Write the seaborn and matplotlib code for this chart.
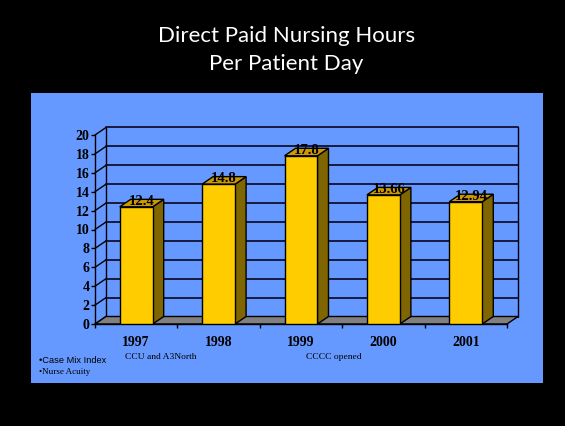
import matplotlib
matplotlib.use("Agg")
import matplotlib.pyplot as plt
import seaborn as sns
import pandas as pd
from matplotlib.patches import Polygon, Rectangle

# Data
years = ["1997", "1998", "1999", "2000", "2001"]
hours = [12.4, 14.8, 17.8, 13.66, 12.94]
value_labels = ["12.4", "14.8", "17.8", "13.66", "12.94"]
y_ticks = list(range(0, 21, 2))
notes = ["CCU and A3North", "CCCC opened"]
bullets = ["\u2022Case Mix Index", "\u2022Nurse Acuity"]
title_lines = ["Direct Paid Nursing Hours", "Per Patient Day"]

W, H = 565, 426
sns.set_theme(style="white")
plt.rcParams["font.family"] = ["DejaVu Sans"]

fig = plt.figure(figsize=(W / 100, H / 100), dpi=100, facecolor="black")


def fx(px):
    return px / W


def fy(py):
    return 1 - py / H


# blue slide panel
fig.patches.append(Rectangle((fx(31), fy(383)), fx(543) - fx(31), fy(93) - fy(383),
                             transform=fig.transFigure, facecolor="#6699FF",
                             edgecolor="none", zorder=-5))

# title
fig.text(fx(286.5), fy(41.7), title_lines[0], ha="center", va="baseline",
         color="white", fontsize=16, family="Lato")
fig.text(fx(286.5), fy(70), title_lines[1], ha="center", va="baseline",
         color="white", fontsize=16, family="Lato")

ax = fig.add_axes([fx(95), fy(324), fx(507) - fx(95), fy(135) - fy(324)])
ax.set_zorder(1)
ax.set_facecolor("none")

df = pd.DataFrame({"year": years, "hours": hours})
sns.barplot(data=df, x="year", y="hours", color="#FFCC00", width=0.4,
            saturation=1, edgecolor="black", linewidth=1, ax=ax, zorder=5)

ax.set_xlim(-0.5, 4.5)
ax.set_ylim(0, 20)

# depth of the pseudo-3D box, in data units
dx = 11 / 82.4
dy = 7.5 / 9.45
x0, x1 = -0.5, 4.5
ymax = 20

# floor
ax.add_patch(Polygon([(x0, 0), (x1, 0), (x1 + dx, dy), (x0 + dx, dy)],
                     closed=True, facecolor="#808080", edgecolor="black",
                     linewidth=1, zorder=2, clip_on=False))
# back wall frame and grid
ax.plot([x0 + dx, x0 + dx], [dy, ymax + dy], color="black", lw=1, clip_on=False, zorder=1)
ax.plot([x1 + dx, x1 + dx], [dy, ymax + dy], color="black", lw=1, clip_on=False, zorder=1)
for t in y_ticks:
    ax.plot([x0 + dx, x1 + dx], [t + dy, t + dy], color="#101030", lw=1.3,
            clip_on=False, zorder=1)
    ax.plot([x0, x0 + dx], [t, t + dy], color="black", lw=1, clip_on=False, zorder=1)

# bar sides and tops
for p, lab in zip(ax.patches, value_labels):
    bx, bw, bh = p.get_x(), p.get_width(), p.get_height()
    if bh <= 0:
        continue
    side = [(bx + bw, 0), (bx + bw + dx, dy), (bx + bw + dx, bh + dy), (bx + bw, bh)]
    top = [(bx, bh), (bx + dx, bh + dy), (bx + bw + dx, bh + dy), (bx + bw, bh)]
    ax.add_patch(Polygon(side, closed=True, facecolor="#806600", edgecolor="black",
                         linewidth=1, zorder=4, clip_on=False))
    ax.add_patch(Polygon(top, closed=True, facecolor="#CC9900", edgecolor="black",
                         linewidth=1, zorder=4, clip_on=False))
    ax.text(bx + bw / 2 + dx / 2, bh + dy * 0.7, lab, ha="center", va="center",
            family="Liberation Serif", fontweight="bold", fontsize=10.5,
            color="black", zorder=6, clip_on=False)

# axes styling
for s in ["top", "right"]:
    ax.spines[s].set_visible(False)
for s in ["left", "bottom"]:
    ax.spines[s].set_color("black")
    ax.spines[s].set_linewidth(1)
    ax.spines[s].set_zorder(3)

ax.set_yticks(y_ticks)
ax.set_yticklabels([str(t) for t in y_ticks], family="Liberation Serif",
                   fontweight="bold", fontsize=10)
ax.set_xticks(range(len(years)))
ax.set_xticklabels(years, family="Liberation Serif", fontweight="bold", fontsize=10)
ax.set_xticks([i - 0.5 for i in range(len(years) + 1)], minor=True)
ax.tick_params(axis="y", left=True, length=3, width=1, color="black", pad=1,
               labelcolor="black")
ax.tick_params(axis="x", which="major", bottom=False, length=0, pad=9,
               labelcolor="black")
ax.tick_params(axis="x", which="minor", bottom=True, length=3, width=1, color="black")
ax.set_xlabel("")
ax.set_ylabel("")
ax.grid(False)

# notes under the axis
fig.text(fx(125), fy(359), notes[0], ha="left", va="baseline",
         family="Liberation Serif", fontsize=6.8, color="black")
fig.text(fx(306), fy(359), notes[1], ha="left", va="baseline",
         family="Liberation Serif", fontsize=6.8, color="black")
fig.text(fx(39), fy(363), bullets[0], ha="left", va="baseline",
         family="Liberation Sans", fontsize=6.7, color="black")
fig.text(fx(39), fy(374), bullets[1], ha="left", va="baseline",
         family="Liberation Serif", fontsize=6.5, color="black")

fig.savefig("out.png", dpi=100, facecolor="black")
